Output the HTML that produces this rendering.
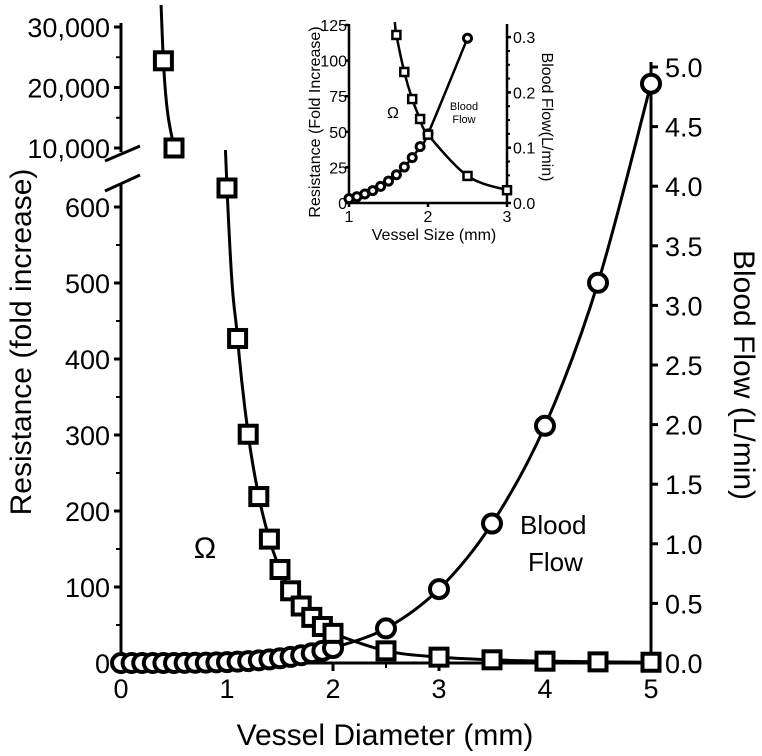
<!DOCTYPE html>
<html><head><meta charset="utf-8"><style>
body{margin:0;background:#fff;}
svg{display:block;font-family:"Liberation Sans",Arial,sans-serif;}
</style></head><body>
<svg id="chart" width="762" height="756" viewBox="0 0 762 756"></svg>
<script>
// Main chart data
const diam = [0,0.1,0.2,0.3,0.4,0.5,0.6,0.7,0.8,0.9,1.0,1.1,1.2,1.3,1.4,1.5,1.6,1.7,1.8,1.9,2.0,2.5,3,3.5,4,4.5,5];
const flow = [0,0.000001,0.00001,0.00006,0.0002,0.0005,0.001,0.0019,0.0032,0.0051,0.0078,0.0114,0.0162,0.0223,0.03,0.0395,0.051,0.065,0.082,0.102,0.125,0.29,0.62,1.17,1.99,3.19,4.86];
const resDiam = [1.0,1.1,1.2,1.3,1.4,1.5,1.6,1.7,1.8,1.9,2.0,2.5,3,3.5,4,4.5,5];
const resist = [625,427,301,219,163,123,95,75,60,48,39,16,7.7,4.2,2.4,1.5,1];
const hiDiam = [0.3,0.4,0.5];
const hiResist = [77160,24414,10000];
const yLowTicks = [0,100,200,300,400,500,600];
const yHiTicks = [10000,20000,30000];
const yRightTicks = [0,0.5,1,1.5,2,2.5,3,3.5,4,4.5,5];
const xTicks = [0,1,2,3,4,5];
// Inset data
const inDiam = [1.0,1.1,1.2,1.3,1.4,1.5,1.6,1.7,1.8,1.9,2.0,2.5];
const inFlow = [0.0078,0.0114,0.0162,0.0223,0.03,0.0395,0.051,0.065,0.082,0.102,0.125,0.298];
const inResDiam = [1.6,1.7,1.8,1.9,2.0,2.5,3.0];
const inResist = [118,92,73,59,48,19,9];
const inXTicks = [1,2,3];
const inYTicks = [0,25,50,75,100,125];
const inRTicks = [0,0.1,0.2,0.3];

const NS="http://www.w3.org/2000/svg";
const svg=document.getElementById('chart');
function el(tag,attrs,parent,text){const e=document.createElementNS(NS,tag);for(const k in attrs)e.setAttribute(k,attrs[k]);if(text!==undefined)e.textContent=text;(parent||svg).appendChild(e);return e;}
function smooth(p){let d='M'+p[0][0]+','+p[0][1];
 for(let i=0;i<p.length-1;i++){const p0=p[i-1]||p[i],p1=p[i],p2=p[i+1],p3=p[i+2]||p2;
  const c1=[p1[0]+(p2[0]-p0[0])/6,p1[1]+(p2[1]-p0[1])/6],c2=[p2[0]-(p3[0]-p1[0])/6,p2[1]-(p3[1]-p1[1])/6];
  d+=' C'+c1[0]+','+c1[1]+' '+c2[0]+','+c2[1]+' '+p2[0]+','+p2[1];}
 return d;}

const X=d=>121+d*106;
const YL=r=>663-r*0.76;
const YH=r=>148-(r-10000)*0.00605;
const YR=f=>663-f*119.2;

const defs=el('defs',{});
const c1=el('clipPath',{id:'clipHi'},defs);el('rect',{x:0,y:5,width:762,height:180},c1);
const c2=el('clipPath',{id:'clipLo'},defs);el('rect',{x:0,y:150,width:762,height:600},c2);

const axes=el('g',{stroke:'#000','stroke-width':3,fill:'none'});

el('line',{x1:121,y1:183,x2:121,y2:664},axes);
el('line',{x1:121,y1:23,x2:121,y2:152},axes);
el('line',{x1:651,y1:62,x2:651,y2:664},axes);
el('line',{x1:120,y1:663,x2:652,y2:663},axes);
el('line',{x1:105,y1:161,x2:140,y2:146},axes);
el('line',{x1:105,y1:191,x2:140,y2:175},axes);

const tl=el('g',{'font-size':27,fill:'#000'});

yLowTicks.forEach(v=>{el('line',{x1:114,y1:YL(v),x2:121,y2:YL(v)},axes);
 const t=el('text',{x:110,y:YL(v)+10,'text-anchor':'end'},tl,String(v));});
for(let v=50;v<600;v+=100)el('line',{x1:116,y1:YL(v),x2:121,y2:YL(v),'stroke-width':2},axes);
yHiTicks.forEach(v=>{el('line',{x1:114,y1:YH(v),x2:121,y2:YH(v)},axes);
 const t=el('text',{x:110,y:YH(v)+10,'text-anchor':'end'},tl,v.toLocaleString('en-US'));});
[15000,25000].forEach(v=>el('line',{x1:116,y1:YH(v),x2:121,y2:YH(v),'stroke-width':2},axes));
yRightTicks.forEach(v=>{el('line',{x1:651,y1:YR(v),x2:658,y2:YR(v)},axes);
 const t=el('text',{x:665,y:YR(v)+10},tl,v.toFixed(1));});
xTicks.forEach(v=>{el('line',{x1:X(v),y1:663,x2:X(v),y2:671},axes);
 const t=el('text',{x:X(v),y:698,'text-anchor':'middle'},tl,String(v));});
[0.5,1.5,2.5,3.5,4.5].forEach(v=>el('line',{x1:X(v),y1:663,x2:X(v),y2:668,'stroke-width':2},axes));

let t;
t=el('text',{x:385,y:745,'font-size':30,'text-anchor':'middle'},svg,'Vessel Diameter (mm)');
t=el('text',{x:0,y:0,'font-size':30,'text-anchor':'middle',transform:'translate(31,342) rotate(-90)'},svg,'Resistance (fold increase)');
t=el('text',{x:0,y:0,'font-size':30,'text-anchor':'middle',transform:'translate(734,375) rotate(90)'},svg,'Blood Flow (L/min)');
t=el('text',{x:205,y:558,'font-size':30,'text-anchor':'middle'},svg,'Ω');
t=el('text',{x:520,y:534,'font-size':26},svg,'Blood');
t=el('text',{x:528,y:571,'font-size':26},svg,'Flow');

const lo=el('g',{'clip-path':'url(#clipLo)'});
let pts=[[0.75,1500]].concat(resDiam.map((d,i)=>[d,resist[i]]));
el('path',{d:smooth(pts.map(p=>[X(p[0]),YL(p[1])])),fill:'none',stroke:'#000','stroke-width':3},lo);
const hi=el('g',{'clip-path':'url(#clipHi)'});
el('path',{d:smooth(hiDiam.map((d,i)=>[X(d),YH(hiResist[i])])),fill:'none',stroke:'#000','stroke-width':3},hi);
el('path',{d:smooth(diam.map((d,i)=>[X(d),YR(flow[i])])),fill:'none',stroke:'#000','stroke-width':3});
diam.forEach((d,i)=>{const c=el('circle',{cx:X(d),cy:YR(flow[i]),r:9,fill:'#fff',stroke:'#000','stroke-width':4});
 });
function sq(cx,cy,s,sw,name,parent){const r=el('rect',{x:cx-s/2,y:cy-s/2,width:s,height:s,fill:'#fff',stroke:'#000','stroke-width':sw},parent);
 }
resDiam.forEach((d,i)=>sq(X(d),YL(resist[i]),17,4,'resistance-point'));
hiDiam.forEach((d,i)=>{if(hiResist[i]<=30000)sq(X(d),YH(hiResist[i]),17,4,'resistance-point-upper');});

// inset
const IX=d=>349+(d-1)*79;
const IY=r=>203-r*1.424;
const IR=f=>203-f*553;
const ig=el('g',{});

const ia=el('g',{stroke:'#000','stroke-width':2.5,fill:'none'},ig);
el('line',{x1:349,y1:24,x2:349,y2:204},ia);
el('line',{x1:507,y1:24,x2:507,y2:204},ia);
el('line',{x1:348,y1:203,x2:508,y2:203},ia);
const itl=el('g',{'font-size':16,fill:'#000'},ig);
inYTicks.forEach(v=>{el('line',{x1:345,y1:IY(v),x2:349,y2:IY(v)},ia);
 const q=el('text',{x:347,y:IY(v)+6,'text-anchor':'end'},itl,String(v));});
inRTicks.forEach(v=>{el('line',{x1:507,y1:IR(v),x2:511,y2:IR(v)},ia);
 const q=el('text',{x:513,y:IR(v)+6},itl,v.toFixed(1));});
for(let v=0.025;v<0.31;v+=0.025)el('line',{x1:507,y1:IR(v),x2:510,y2:IR(v),'stroke-width':2},ia);
inXTicks.forEach(v=>{el('line',{x1:IX(v),y1:203,x2:IX(v),y2:207},ia);
 const q=el('text',{x:IX(v),y:222,'text-anchor':'middle'},itl,String(v));});
t=el('text',{x:434,y:240,'font-size':16,'text-anchor':'middle'},ig,'Vessel Size (mm)');
t=el('text',{x:0,y:0,'font-size':16,'text-anchor':'middle',transform:'translate(320,122) rotate(-90)'},ig,'Resistance (Fold Increase)');
t=el('text',{x:0,y:0,'font-size':16,'text-anchor':'middle',transform:'translate(542,117) rotate(90)'},ig,'Blood Flow(L/min)');
t=el('text',{x:393,y:118,'font-size':16,'text-anchor':'middle'},ig,'Ω');
t=el('text',{x:464,y:110,'font-size':11,'text-anchor':'middle'},ig,'Blood');
t=el('text',{x:464,y:123,'font-size':11,'text-anchor':'middle'},ig,'Flow');
el('path',{d:smooth([[1.58,127]].concat(inResDiam.map((d,i)=>[d,inResist[i]])).map(p=>[IX(p[0]),IY(p[1])])),fill:'none',stroke:'#000','stroke-width':2.5},ig);
el('path',{d:smooth(inDiam.map((d,i)=>[IX(d),IR(inFlow[i])])),fill:'none',stroke:'#000','stroke-width':2.5},ig);
inDiam.forEach((d,i)=>{const c=el('circle',{cx:IX(d),cy:IR(inFlow[i]),r:4,fill:'#fff',stroke:'#000','stroke-width':3},ig);
 });
inResDiam.forEach((d,i)=>sq(IX(d),IY(inResist[i]),8,2.5,'inset-resistance-point',ig));
</script>
</body></html>
